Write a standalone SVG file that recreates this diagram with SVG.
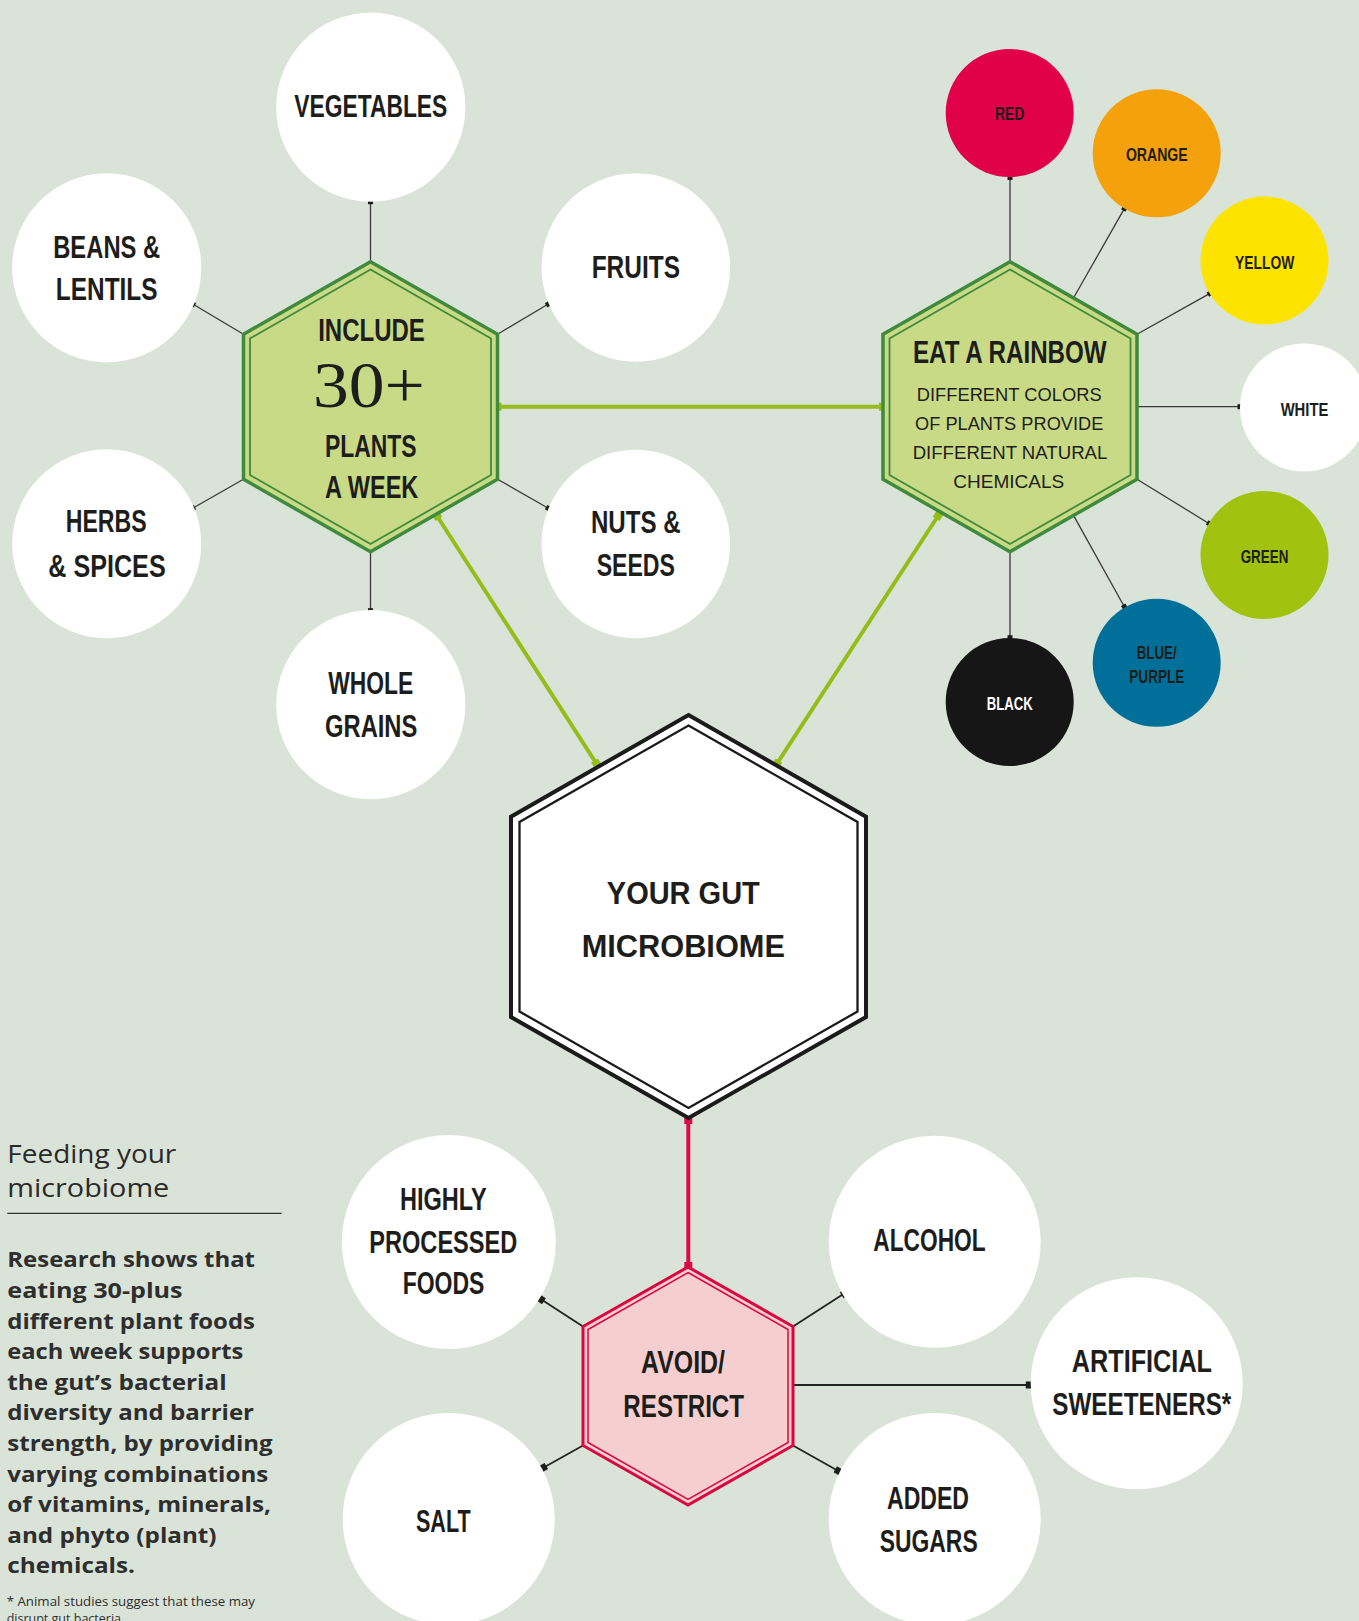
<svg xmlns="http://www.w3.org/2000/svg" width="1359" height="1621" viewBox="0 0 1359 1621">
<defs>
<style>
.lbl{font-family:"Liberation Sans Narrow","Liberation Sans",Arial,sans-serif;font-weight:700;fill:#1d1d1b;text-anchor:middle;font-size:31px}
.lblb{font-size:32px}
.rb{font-family:"Liberation Sans Narrow","Liberation Sans",Arial,sans-serif;font-weight:700;fill:#1d1d1b;text-anchor:middle;font-size:19px}
.sub{font-family:"Liberation Sans",Arial,sans-serif;font-weight:400;fill:#1d1d1b;text-anchor:middle;font-size:18.5px}
.num{font-family:"Liberation Serif","Times New Roman",serif;font-weight:400;fill:#1d1d1b;text-anchor:middle;font-size:65px}
.wc{fill:#ffffff}
.thin{stroke:#3a3a3a;stroke-width:1.3;fill:none}
.bthin{stroke:#232323;stroke-width:1.8;fill:none}
.gl{stroke:#95bd1a;stroke-width:4;fill:none}
.rl{stroke:#dc0a45;stroke-width:4;fill:none}
.gout{fill:#c9da86;stroke:#3f8a3d;stroke-width:3.5}
.gin{fill:none;stroke:#3f8a3d;stroke-width:1.8}
.hd{font-family:"Open Sans","Liberation Sans",sans-serif;font-weight:400;fill:#2a2a2a;font-size:26px}
.body{font-family:"Open Sans","Liberation Sans",sans-serif;font-weight:700;fill:#2e2e2e;font-size:21.5px}
.fn{font-family:"Open Sans","Liberation Sans",sans-serif;font-weight:400;fill:#2e2e2e;font-size:12.5px}
</style>
<marker id="dk" markerUnits="userSpaceOnUse" markerWidth="8" markerHeight="8" refX="4" refY="4" orient="auto"><rect x="1.5" y="1.5" width="5" height="5" fill="#1d1d1b"/></marker>
<marker id="dkb" markerUnits="userSpaceOnUse" markerWidth="10" markerHeight="10" refX="5" refY="5" orient="auto"><rect x="1.5" y="1.5" width="7" height="7" fill="#1d1d1b"/></marker>
<marker id="gm" markerUnits="userSpaceOnUse" markerWidth="10" markerHeight="10" refX="5" refY="5" orient="auto"><rect x="1" y="1" width="8" height="8" fill="#95bd1a"/></marker>
<marker id="rm" markerUnits="userSpaceOnUse" markerWidth="10" markerHeight="10" refX="5" refY="5" orient="auto"><rect x="1" y="1" width="8" height="8" fill="#dc0a45"/></marker>
</defs>
<rect x="0" y="0" width="1359" height="1621" fill="#dae3d8"/>

<g id="connectors">
<line class="gl" x1="497.5" y1="406.7" x2="883" y2="406.7" marker-start="url(#gm)" marker-end="url(#gm)"/>
<line class="gl" x1="436.7" y1="515.5" x2="596.7" y2="764" marker-start="url(#gm)" marker-end="url(#gm)"/>
<line class="gl" x1="938.3" y1="515.5" x2="776.7" y2="764" marker-start="url(#gm)" marker-end="url(#gm)"/>
<line class="rl" x1="688.3" y1="1120" x2="688.3" y2="1266" marker-start="url(#rm)" marker-end="url(#rm)"/>
<line class="thin" x1="370.5" y1="261.7" x2="370.5" y2="201.7" marker-end="url(#dk)"/>
<line class="thin" x1="243.5" y1="334.2" x2="192.7" y2="304" marker-end="url(#dk)"/>
<line class="thin" x1="243.5" y1="479.2" x2="192.7" y2="508.3" marker-end="url(#dk)"/>
<line class="thin" x1="497.5" y1="334.2" x2="548.3" y2="304" marker-end="url(#dk)"/>
<line class="thin" x1="497.5" y1="479.2" x2="548.3" y2="508.3" marker-end="url(#dk)"/>
<line class="thin" x1="370.5" y1="551.7" x2="370.5" y2="610.7" marker-end="url(#dk)"/>
<line class="thin" x1="1010" y1="261.7" x2="1010" y2="177.5" marker-end="url(#dk)"/>
<line class="thin" x1="1073.5" y1="298" x2="1124.5" y2="208.4" marker-end="url(#dk)"/>
<line class="thin" x1="1137" y1="334.2" x2="1210" y2="293.4" marker-end="url(#dk)"/>
<line class="thin" x1="1137" y1="406.7" x2="1240" y2="406.7" marker-end="url(#dk)"/>
<line class="thin" x1="1137" y1="479.2" x2="1209.3" y2="523.7" marker-end="url(#dk)"/>
<line class="thin" x1="1073.5" y1="515.4" x2="1124.5" y2="607" marker-end="url(#dk)"/>
<line class="thin" x1="1010" y1="551.7" x2="1010" y2="637.7" marker-end="url(#dk)"/>
<line class="bthin" x1="583" y1="1326.5" x2="541" y2="1299.3" marker-end="url(#dkb)"/>
<line class="bthin" x1="583" y1="1445.5" x2="543.3" y2="1467.7" marker-end="url(#dkb)"/>
<line class="bthin" x1="793" y1="1326.5" x2="844.6" y2="1293.3" marker-end="url(#dkb)"/>
<line class="bthin" x1="793" y1="1385" x2="1029.3" y2="1385" marker-end="url(#dkb)"/>
<line class="bthin" x1="793" y1="1445.5" x2="838.3" y2="1471" marker-end="url(#dkb)"/>
</g>

<g id="hex-plants">
<polygon class="gout" points="370.5,261.7 497.5,334.2 497.5,479.2 370.5,551.7 243.5,479.2 243.5,334.2"/>
<polygon class="gin" points="370.5,269.5 491,338.5 491,475 370.5,544 250,475 250,338.5"/>
<text class="lbl" x="371.5" y="340.7" textLength="106.7" lengthAdjust="spacingAndGlyphs">INCLUDE</text>
<text class="num" x="369" y="406.7" textLength="112" lengthAdjust="spacingAndGlyphs">30+</text>
<text class="lbl" x="370.8" y="456.7" textLength="91.7" lengthAdjust="spacingAndGlyphs">PLANTS</text>
<text class="lbl" x="371.7" y="498.3" textLength="93.3" lengthAdjust="spacingAndGlyphs">A WEEK</text>
</g>

<g id="hex-rainbow">
<polygon class="gout" points="1010,261.7 1137,334.2 1137,479.2 1010,551.7 883,479.2 883,334.2"/>
<polygon class="gin" points="1010,269.5 1130.5,338.5 1130.5,475 1010,544 889.5,475 889.5,338.5"/>
<text class="lbl" x="1009.8" y="363.3" font-size="30" textLength="193.7" lengthAdjust="spacingAndGlyphs">EAT A RAINBOW</text>
<text class="sub" x="1009.2" y="400.7" textLength="185" lengthAdjust="spacingAndGlyphs">DIFFERENT COLORS</text>
<text class="sub" x="1009.2" y="430" textLength="188.3" lengthAdjust="spacingAndGlyphs">OF PLANTS PROVIDE</text>
<text class="sub" x="1010" y="459" textLength="194.7" lengthAdjust="spacingAndGlyphs">DIFFERENT NATURAL</text>
<text class="sub" x="1008.8" y="488.3" textLength="111" lengthAdjust="spacingAndGlyphs">CHEMICALS</text>
</g>

<g id="hex-gut">
<polygon fill="#ffffff" stroke="#1b1b1b" stroke-width="4" points="688.5,715 866,816.7 866,1017 688.5,1118 511,1017 511,816.7"/>
<polygon fill="none" stroke="#1b1b1b" stroke-width="2.3" points="688.5,725.5 857.5,822 857.5,1011.5 688.5,1108 519.5,1011.5 519.5,822"/>
<text class="lbl" x="683.3" y="904" font-size="38" textLength="153" lengthAdjust="spacingAndGlyphs">YOUR GUT</text>
<text class="lbl" x="683.3" y="957" font-size="38" textLength="203.3" lengthAdjust="spacingAndGlyphs">MICROBIOME</text>
</g>

<g id="hex-avoid">
<polygon fill="#f5cfd0" stroke="#d9063f" stroke-width="3" points="688,1267 793,1326.5 793,1445.5 688,1505 583,1445.5 583,1326.5"/>
<polygon fill="none" stroke="#d9063f" stroke-width="1.5" points="688,1272.5 788,1329.5 788,1442.5 688,1499.5 588,1442.5 588,1329.5"/>
<text class="lbl" x="683" y="1373" font-size="30" textLength="84" lengthAdjust="spacingAndGlyphs">AVOID/</text>
<text class="lbl" x="683.7" y="1416.7" font-size="30" textLength="120.7" lengthAdjust="spacingAndGlyphs">RESTRICT</text>
</g>

<g id="vegetables"><circle class="wc" cx="370.8" cy="107.2" r="94.6"/><text class="lbl" x="370.8" y="117.3" textLength="153" lengthAdjust="spacingAndGlyphs">VEGETABLES</text></g>
<g id="beans"><circle class="wc" cx="106.7" cy="267.8" r="94.6"/><text class="lbl" x="106.7" y="258.3" textLength="107" lengthAdjust="spacingAndGlyphs">BEANS &amp;</text><text class="lbl" x="106.7" y="300" textLength="101.7" lengthAdjust="spacingAndGlyphs">LENTILS</text></g>
<g id="fruits"><circle class="wc" cx="635.8" cy="267.5" r="94.3"/><text class="lbl" x="635.8" y="278.3" textLength="88.3" lengthAdjust="spacingAndGlyphs">FRUITS</text></g>
<g id="herbs"><circle class="wc" cx="106.7" cy="543.7" r="94.5"/><text class="lbl" x="106.2" y="531.7" textLength="81" lengthAdjust="spacingAndGlyphs">HERBS</text><text class="lbl" x="107" y="576.7" textLength="117.3" lengthAdjust="spacingAndGlyphs">&amp; SPICES</text></g>
<g id="nuts"><circle class="wc" cx="635.8" cy="544" r="94.3"/><text class="lbl" x="635.8" y="533.3" textLength="89.7" lengthAdjust="spacingAndGlyphs">NUTS &amp;</text><text class="lbl" x="635.8" y="575.7" textLength="78.3" lengthAdjust="spacingAndGlyphs">SEEDS</text></g>
<g id="wholegrains"><circle class="wc" cx="370.8" cy="704.7" r="94.6"/><text class="lbl" x="370.8" y="694" textLength="85" lengthAdjust="spacingAndGlyphs">WHOLE</text><text class="lbl" x="371.2" y="736.7" textLength="92.3" lengthAdjust="spacingAndGlyphs">GRAINS</text></g>

<g id="red"><circle cx="1009.7" cy="113" r="64" fill="#e1004a"/><text class="rb" x="1009.7" y="120.2" textLength="29.3" lengthAdjust="spacingAndGlyphs">RED</text></g>
<g id="orange"><circle cx="1156.7" cy="153.3" r="64" fill="#f4a10b"/><text class="rb" x="1156.8" y="161.3" textLength="61.7" lengthAdjust="spacingAndGlyphs">ORANGE</text></g>
<g id="yellow"><circle cx="1264.5" cy="260.6" r="64" fill="#fde400"/><text class="rb" x="1264.7" y="268.9" textLength="59.3" lengthAdjust="spacingAndGlyphs">YELLOW</text></g>
<g id="white"><circle cx="1304" cy="407.5" r="64" fill="#ffffff"/><text class="rb" x="1304.5" y="416.1" textLength="47.7" lengthAdjust="spacingAndGlyphs">WHITE</text></g>
<g id="green"><circle cx="1264.5" cy="555" r="64" fill="#a1c30f"/><text class="rb" x="1264.5" y="563" textLength="47.7" lengthAdjust="spacingAndGlyphs">GREEN</text></g>
<g id="bluepurple"><circle cx="1156.7" cy="662.8" r="64" fill="#00709a"/><text class="rb" x="1156.7" y="659.2" textLength="40" lengthAdjust="spacingAndGlyphs">BLUE/</text><text class="rb" x="1156.8" y="682.8" textLength="55" lengthAdjust="spacingAndGlyphs">PURPLE</text></g>
<g id="black"><circle cx="1009.7" cy="702" r="64" fill="#161616"/><text class="rb" x="1009.7" y="710.1" style="fill:#ffffff" textLength="46" lengthAdjust="spacingAndGlyphs">BLACK</text></g>

<g id="processed"><circle class="wc" cx="448.8" cy="1242" r="107"/><text class="lbl lblb" x="443.3" y="1210" textLength="86.7" lengthAdjust="spacingAndGlyphs">HIGHLY</text><text class="lbl lblb" x="443.3" y="1252.7" textLength="148" lengthAdjust="spacingAndGlyphs">PROCESSED</text><text class="lbl lblb" x="443.5" y="1294.3" textLength="81.7" lengthAdjust="spacingAndGlyphs">FOODS</text></g>
<g id="salt"><circle class="wc" cx="448.7" cy="1519" r="106"/><text class="lbl lblb" x="443.3" y="1531.7" textLength="54.7" lengthAdjust="spacingAndGlyphs">SALT</text></g>
<g id="alcohol"><circle class="wc" cx="934.7" cy="1241.8" r="106"/><text class="lbl lblb" x="929.5" y="1250.7" textLength="112.3" lengthAdjust="spacingAndGlyphs">ALCOHOL</text></g>
<g id="sweeteners"><circle class="wc" cx="1136.7" cy="1383.2" r="106"/><text class="lbl lblb" x="1141.9" y="1371.7" textLength="140.3" lengthAdjust="spacingAndGlyphs">ARTIFICIAL</text><text class="lbl lblb" x="1141.8" y="1415" textLength="179" lengthAdjust="spacingAndGlyphs">SWEETENERS*</text></g>
<g id="sugars"><circle class="wc" cx="934.7" cy="1519" r="106"/><text class="lbl lblb" x="928" y="1509" textLength="82" lengthAdjust="spacingAndGlyphs">ADDED</text><text class="lbl lblb" x="928.7" y="1551.7" textLength="97.9" lengthAdjust="spacingAndGlyphs">SUGARS</text></g>

<g id="sidebar">
<text class="hd" x="7.3" y="1162.7" textLength="169" lengthAdjust="spacingAndGlyphs">Feeding your</text>
<text class="hd" x="7.3" y="1197" textLength="162" lengthAdjust="spacingAndGlyphs">microbiome</text>
<line x1="7.3" y1="1213.3" x2="281.7" y2="1213.3" stroke="#333333" stroke-width="1.3"/>
<text class="body" x="7.3" y="1267.3" textLength="247.7" lengthAdjust="spacingAndGlyphs">Research shows that</text>
<text class="body" x="7.3" y="1297.9" textLength="175.3" lengthAdjust="spacingAndGlyphs">eating 30-plus</text>
<text class="body" x="7.3" y="1328.5" textLength="247.7" lengthAdjust="spacingAndGlyphs">different plant foods</text>
<text class="body" x="7.3" y="1359.1" textLength="236" lengthAdjust="spacingAndGlyphs">each week supports</text>
<text class="body" x="7.3" y="1389.7" textLength="219.3" lengthAdjust="spacingAndGlyphs">the gut’s bacterial</text>
<text class="body" x="7.3" y="1420.3" textLength="246.7" lengthAdjust="spacingAndGlyphs">diversity and barrier</text>
<text class="body" x="7.3" y="1450.9" textLength="265.3" lengthAdjust="spacingAndGlyphs">strength, by providing</text>
<text class="body" x="7.3" y="1481.5" textLength="261" lengthAdjust="spacingAndGlyphs">varying combinations</text>
<text class="body" x="7.3" y="1512.1" textLength="263.7" lengthAdjust="spacingAndGlyphs">of vitamins, minerals,</text>
<text class="body" x="7.3" y="1542.7" textLength="209.3" lengthAdjust="spacingAndGlyphs">and phyto (plant)</text>
<text class="body" x="7.3" y="1573.3" textLength="127.7" lengthAdjust="spacingAndGlyphs">chemicals.</text>
<text class="fn" x="6.7" y="1606" textLength="248.3" lengthAdjust="spacingAndGlyphs">* Animal studies suggest that these may</text>
<text class="fn" x="6.7" y="1623">disrupt gut bacteria.</text>
</g>
</svg>
